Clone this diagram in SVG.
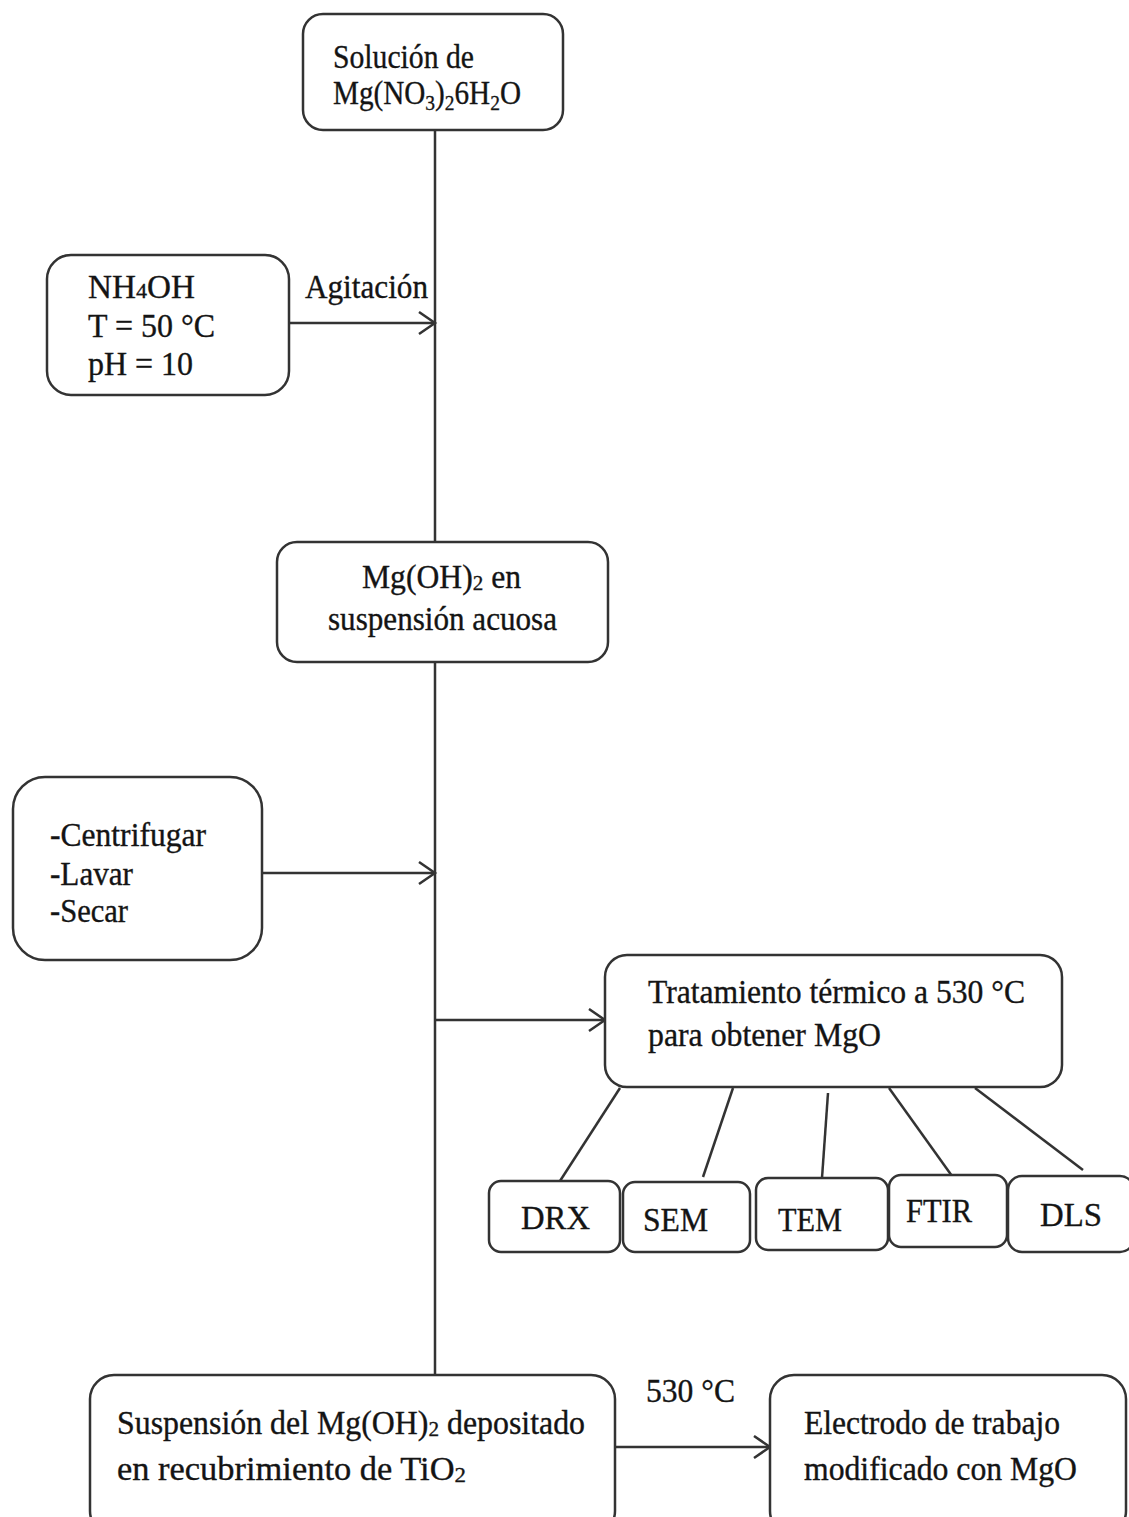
<svg xmlns="http://www.w3.org/2000/svg" width="1129" height="1517" viewBox="0 0 1129 1517">
  <style>
    .box { fill: #ffffff; stroke: #333333; stroke-width: 2.5; }
    .wire { fill: none; stroke: #333333; stroke-width: 2.5; }
    .t { font-family: "Liberation Serif", "Times New Roman", serif; font-size: 33px; fill: #141414; stroke: #141414; stroke-width: 0.35; }
    .sub { font-size: 22px; }
  </style>
  <defs>
    <marker id="chev" markerUnits="userSpaceOnUse" markerWidth="20" markerHeight="26" refX="17" refY="12" orient="auto">
      <path d="M1,1 L17,12 L1,23" fill="none" stroke="#333333" stroke-width="2.5"/>
    </marker>
  </defs>
  <rect width="1129" height="1517" fill="#ffffff"/>

  <!-- connectors -->
  <g id="connectors">
    <line class="wire" x1="435" y1="130" x2="435" y2="542"/>
    <line class="wire" x1="435" y1="662" x2="435" y2="1376"/>
    <line class="wire" x1="289" y1="323" x2="435" y2="323" marker-end="url(#chev)"/>
    <line class="wire" x1="262" y1="873" x2="435" y2="873" marker-end="url(#chev)"/>
    <line class="wire" x1="435" y1="1020" x2="605" y2="1020" marker-end="url(#chev)"/>
    <line class="wire" x1="615" y1="1447" x2="770" y2="1447" marker-end="url(#chev)"/>
    <line class="wire" x1="620" y1="1088" x2="560" y2="1181"/>
    <line class="wire" x1="733" y1="1088" x2="703" y2="1177"/>
    <line class="wire" x1="828" y1="1093" x2="822" y2="1178"/>
    <line class="wire" x1="889" y1="1088" x2="952" y2="1176"/>
    <line class="wire" x1="975" y1="1088" x2="1083" y2="1170"/>
    <text class="t" x="305" y="298" textLength="123" lengthAdjust="spacingAndGlyphs">Agitación</text>
    <text class="t" x="646" y="1402" textLength="89" lengthAdjust="spacingAndGlyphs">530 °C</text>
  </g>

  <g id="solucion">
    <rect class="box" x="303" y="14" width="260" height="116" rx="20"/>
    <text class="t" x="333" y="68" textLength="141" lengthAdjust="spacingAndGlyphs">Solución de</text>
    <text class="t" x="333" y="104" textLength="188" lengthAdjust="spacingAndGlyphs">Mg(NO<tspan class="sub" dy="6">3</tspan><tspan dy="-6">)</tspan><tspan class="sub" dy="6">2</tspan><tspan dy="-6">6H</tspan><tspan class="sub" dy="6">2</tspan><tspan dy="-6">O</tspan></text>
  </g>

  <g id="nh4oh">
    <rect class="box" x="47" y="255" width="242" height="140" rx="24"/>
    <text class="t" x="88" y="298" textLength="107" lengthAdjust="spacingAndGlyphs">NH<tspan class="sub">4</tspan>OH</text>
    <text class="t" x="88" y="337" textLength="127" lengthAdjust="spacingAndGlyphs">T = 50 °C</text>
    <text class="t" x="88" y="375" textLength="105" lengthAdjust="spacingAndGlyphs">pH = 10</text>
  </g>

  <g id="mgoh2">
    <rect class="box" x="277" y="542" width="331" height="120" rx="20"/>
    <text class="t" x="362" y="588" textLength="159" lengthAdjust="spacingAndGlyphs">Mg(OH)<tspan class="sub" dy="2">2</tspan><tspan dy="-2"> en</tspan></text>
    <text class="t" x="328" y="630" textLength="229" lengthAdjust="spacingAndGlyphs">suspensión acuosa</text>
  </g>

  <g id="lavado">
    <rect class="box" x="13" y="777" width="249" height="183" rx="32"/>
    <text class="t" x="50" y="846" textLength="156" lengthAdjust="spacingAndGlyphs">-Centrifugar</text>
    <text class="t" x="50" y="885" textLength="83" lengthAdjust="spacingAndGlyphs">-Lavar</text>
    <text class="t" x="50" y="922" textLength="78" lengthAdjust="spacingAndGlyphs">-Secar</text>
  </g>

  <g id="tratamiento">
    <rect class="box" x="605" y="955" width="457" height="132" rx="22"/>
    <text class="t" x="648" y="1003" textLength="377" lengthAdjust="spacingAndGlyphs">Tratamiento térmico a 530 °C</text>
    <text class="t" x="648" y="1046" textLength="233" lengthAdjust="spacingAndGlyphs">para obtener MgO</text>
  </g>

  <g id="drx">
    <rect class="box" x="489" y="1181" width="131" height="71" rx="12"/>
    <text class="t" x="521" y="1229" textLength="69" lengthAdjust="spacingAndGlyphs">DRX</text>
  </g>
  <g id="sem">
    <rect class="box" x="623" y="1182" width="127" height="70" rx="12"/>
    <text class="t" x="643" y="1231" textLength="65" lengthAdjust="spacingAndGlyphs">SEM</text>
  </g>
  <g id="tem">
    <rect class="box" x="756" y="1178" width="132" height="72" rx="12"/>
    <text class="t" x="778" y="1231" textLength="64" lengthAdjust="spacingAndGlyphs">TEM</text>
  </g>
  <g id="ftir">
    <rect class="box" x="889" y="1175" width="118" height="72" rx="12"/>
    <text class="t" x="906" y="1222" textLength="66" lengthAdjust="spacingAndGlyphs">FTIR</text>
  </g>
  <g id="dls">
    <rect class="box" x="1008" y="1176" width="126" height="76" rx="14"/>
    <text class="t" x="1040" y="1226" textLength="62" lengthAdjust="spacingAndGlyphs">DLS</text>
  </g>

  <g id="suspension">
    <rect class="box" x="90" y="1375" width="525" height="160" rx="24"/>
    <text class="t" x="117" y="1434" textLength="468" lengthAdjust="spacingAndGlyphs">Suspensión del Mg(OH)<tspan class="sub" dy="2">2</tspan><tspan dy="-2"> depositado</tspan></text>
    <text class="t" x="117" y="1480" textLength="349" lengthAdjust="spacingAndGlyphs">en recubrimiento de TiO<tspan class="sub" dy="2">2</tspan></text>
  </g>

  <g id="electrodo">
    <rect class="box" x="770" y="1375" width="356" height="160" rx="24"/>
    <text class="t" x="804" y="1434" textLength="256" lengthAdjust="spacingAndGlyphs">Electrodo de trabajo</text>
    <text class="t" x="804" y="1480" textLength="273" lengthAdjust="spacingAndGlyphs">modificado con MgO</text>
  </g>
</svg>
